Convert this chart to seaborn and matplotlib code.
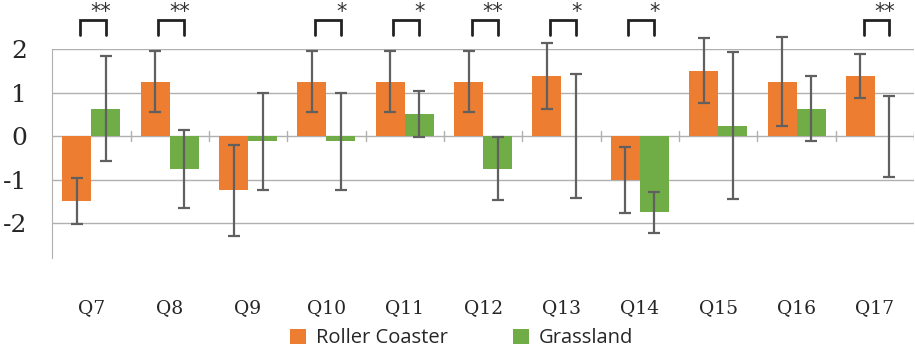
import pandas as pd
import numpy as np
import seaborn as sns
import matplotlib.pyplot as plt

questions = ['Q7', 'Q8', 'Q9', 'Q10', 'Q11', 'Q12', 'Q13', 'Q14', 'Q15', 'Q16', 'Q17']
coaster_mean = [-1.5, 1.25, -1.25, 1.25, 1.25, 1.25, 1.38, -1.0, 1.5, 1.25, 1.38]
coaster_sd = [0.53, 0.7, 1.05, 0.7, 0.7, 0.7, 0.75, 0.76, 0.75, 1.03, 0.5]
grass_mean = [0.63, -0.75, -0.12, -0.12, 0.5, -0.75, 0.0, -1.75, 0.24, 0.63, 0.0]
grass_sd = [1.2, 0.9, 1.12, 1.12, 0.53, 0.72, 1.42, 0.47, 1.68, 0.75, 0.93]
signif = ['**', '**', '', '*', '*', '**', '*', '*', '', '', '**']
groups = ['Roller Coaster', 'Grassland']

df = pd.DataFrame({
    'question': questions * 2,
    'group': [groups[0]] * len(questions) + [groups[1]] * len(questions),
    'score': coaster_mean + grass_mean,
})

sns.set_style('white')
plt.rcParams['axes.unicode_minus'] = False

fig = plt.figure(figsize=(9.15, 3.5), dpi=100)
ax = fig.add_axes([0.057, 0.263, 0.942, 0.597])

ax.set_ylim(-2.8, 2.0)
ax.set_yticks([-2, -1, 0, 1, 2])
for v in [-2, -1, 0, 1, 2]:
    ax.axhline(v, color='#b0b0b0', lw=1, zorder=0)

sns.barplot(data=df, x='question', y='score', hue='group', order=questions,
            hue_order=groups, palette=['#ED7D31', '#70AD47'], width=0.74,
            errorbar=None, ax=ax, zorder=2, saturation=1, linewidth=0)

centers = []
for cont, sds in zip(ax.containers, [coaster_sd, grass_sd]):
    xs = [p.get_x() + p.get_width() / 2 for p in cont]
    ys = [p.get_height() for p in cont]
    centers.append(xs)
    eb = ax.errorbar(xs, ys, yerr=sds, fmt='none', ecolor='#606060', elinewidth=1.6,
                     capsize=4, capthick=1.6, zorder=3)
    for art in eb.lines[1] + eb.lines[2]:
        art.set_clip_on(False)

# small ticks along the zero line between categories
for i in range(len(questions)):
    ax.plot([i + 0.5, i + 0.5], [-0.12, 0.12], color='#b0b0b0', lw=1, zorder=1)

# significance brackets
for i, s in enumerate(signif):
    if not s:
        continue
    x0, x1 = centers[0][i] + 0.04, centers[1][i]
    ax.plot([x0, x0, x1, x1], [2.33, 2.66, 2.66, 2.33], color='#222222', lw=2,
            clip_on=False, solid_joinstyle='miter')
    ax.text(x1 + 0.07, 2.62, s, ha='right', va='bottom', fontsize=15,
            color='#333333', family='DejaVu Sans')

ax.set_xlim(-0.5, len(questions) - 0.5)
ax.set_xlabel('')
ax.set_ylabel('')
ax.tick_params(axis='x', length=0, pad=30, labelsize=13.5)
ax.tick_params(axis='y', length=0, pad=18, labelsize=18)
for lab in ax.get_xticklabels() + ax.get_yticklabels():
    lab.set_family('DejaVu Serif')

for side in ['top', 'right', 'bottom']:
    ax.spines[side].set_visible(False)
ax.spines['left'].set_color('#b0b0b0')

ax.legend(loc='center', bbox_to_anchor=(0.475, -0.385), ncol=2, frameon=False,
          prop={'family': 'Open Sans', 'size': 14.5}, handlelength=0.8,
          handleheight=0.8, columnspacing=3.2, handletextpad=0.5)

fig.savefig('out.png', dpi=100)
